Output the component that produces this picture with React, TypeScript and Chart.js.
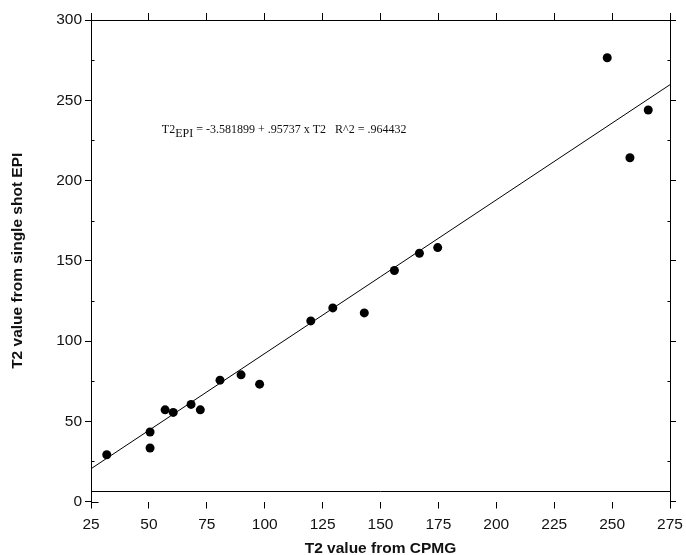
import React, { useEffect, useRef } from 'react';
import { Chart, registerables } from 'chart.js';

Chart.register(...registerables);

// ---- data ----
const cpmgValues = [31.8, 50.5, 50.5, 57.0, 60.5, 68.2, 72.2, 80.7, 89.8, 97.8, 119.9, 129.4, 143.0, 156.0, 166.8, 174.7, 247.9, 257.7, 265.6];
const epiValues = [29.1, 43.3, 33.3, 57.1, 55.5, 60.5, 57.1, 75.6, 78.9, 73.1, 112.5, 120.6, 117.5, 143.9, 154.7, 158.2, 276.5, 214.2, 243.9];
const fitX = [25, 275];
const fitY = [20.4, 259.7];
const xMin = 25;
const xMax = 275;
const xStep = 25;
const yMin = 0;
const yMax = 300;
const yStep = 50;
const yMinorTicks = [25, 75, 125, 175, 225, 275];
const frameBottomValue = 6.5;
const equationMain = 'T2';
const equationSub = 'EPI';
const equationRest = ' = -3.581899 + .95737 x T2   R^2 = .964432';
const equationAnchorX = 55.6;
const equationAnchorY = 229.3;
const xTitle = 'T2 value from CPMG';
const yTitle = 'T2 value from single shot EPI';

const SANS = '"Liberation Sans", Arial, Helvetica, sans-serif';
const INK = '#111';

const overlayPlugin = {
  id: 'overlay',
  afterDatasetsDraw(chart: any) {
    const { ctx, chartArea, scales } = chart;
    const xs = scales.x;
    const ys = scales.y;
    ctx.save();
    ctx.strokeStyle = '#000';
    ctx.lineWidth = 1;
    // bottom frame line
    const fy = Math.round(ys.getPixelForValue(frameBottomValue)) + 0.5;
    ctx.beginPath();
    ctx.moveTo(chartArea.left, fy);
    ctx.lineTo(chartArea.right, fy);
    ctx.stroke();
    // minor inward ticks on left and right frame
    const lx = Math.round(chartArea.left) + 0.5;
    const rx = Math.round(chartArea.right) + 0.5;
    ctx.beginPath();
    yMinorTicks.forEach((v) => {
      const py = Math.round(ys.getPixelForValue(v)) + 0.5;
      ctx.moveTo(lx, py);
      ctx.lineTo(lx + 3, py);
      ctx.moveTo(rx, py);
      ctx.lineTo(rx - 3, py);
    });
    // origin cross: zero tick extends slightly inward
    const zy = Math.round(ys.getPixelForValue(yMin)) + 0.5;
    ctx.moveTo(lx, zy);
    ctx.lineTo(lx + 7, zy);
    ctx.stroke();
    // equation text
    ctx.fillStyle = INK;
    ctx.font = '12px "Liberation Serif", "Times New Roman", serif';
    ctx.textBaseline = 'alphabetic';
    ctx.textAlign = 'left';
    let px = xs.getPixelForValue(equationAnchorX);
    const py = ys.getPixelForValue(equationAnchorY);
    ctx.fillText(equationMain, px, py);
    px += ctx.measureText(equationMain).width;
    ctx.fillText(equationSub, px, py + 4);
    px += ctx.measureText(equationSub).width;
    ctx.fillText(equationRest, px, py);
    ctx.restore();
  },
};

function noPad(s: any) {
  s.paddingLeft = 0;
  s.paddingRight = 0;
  s.paddingTop = 0;
  s.paddingBottom = 0;
}

export default function App() {
  const canvasRef = useRef<HTMLCanvasElement | null>(null);

  useEffect(() => {
    const canvas = canvasRef.current;
    if (!canvas) return;
    const points = cpmgValues.map((x, i) => ({ x, y: epiValues[i] }));
    const fitPoints = fitX.map((x, i) => ({ x, y: fitY[i] }));
    const tickFont = { family: SANS, size: 15.5 };
    const titleFont = { family: SANS, size: 15.5, weight: 'bold' as const, lineHeight: 0.8 };

    const chart = new Chart(canvas, {
      type: 'scatter',
      data: {
        datasets: [
          {
            label: 'fit',
            data: fitPoints,
            showLine: true,
            borderColor: '#000',
            borderWidth: 1,
            pointRadius: 0,
            fill: false,
          },
          {
            label: 'T2',
            data: points,
            pointRadius: 4.5,
            pointBackgroundColor: '#000',
            pointBorderWidth: 0,
            backgroundColor: '#000',
            borderColor: '#000',
          },
        ],
      },
      options: {
        animation: false,
        responsive: false,
        maintainAspectRatio: false,
        layout: { padding: 0 },
        plugins: {
          legend: { display: false },
          tooltip: { enabled: false },
        },
        scales: {
          x: {
            type: 'linear',
            position: 'bottom',
            min: xMin,
            max: xMax,
            ticks: { stepSize: xStep, font: tickFont, color: INK, padding: 7, maxRotation: 0, autoSkip: false },
            grid: { drawOnChartArea: false, tickLength: 7, color: '#000' },
            border: { display: false },
            title: { display: true, text: xTitle, font: titleFont, color: INK, padding: 0 },
            afterFit(s: any) { s.height = 53.5; noPad(s); },
          },
          xTop: {
            type: 'linear',
            axis: 'x',
            position: 'top',
            min: xMin,
            max: xMax,
            ticks: { stepSize: xStep, display: false },
            grid: { drawOnChartArea: false, tickLength: 7, color: '#000' },
            border: { display: true, color: '#000' },
            afterFit(s: any) { s.height = 20; noPad(s); },
          },
          y: {
            type: 'linear',
            position: 'left',
            min: yMin,
            max: yMax,
            ticks: { stepSize: yStep, font: tickFont, color: INK, padding: 3 },
            grid: { drawOnChartArea: false, tickLength: 6, color: '#000' },
            border: { display: true, color: '#000' },
            title: { display: true, text: yTitle, font: titleFont, color: INK, padding: { top: 12, bottom: 0 } },
            afterFit(s: any) { s.width = 91; noPad(s); },
          },
          yRight: {
            type: 'linear',
            axis: 'y',
            position: 'right',
            min: yMin,
            max: yMax,
            ticks: { stepSize: yStep, display: false },
            grid: { drawOnChartArea: false, tickLength: 6, color: '#000' },
            border: { display: true, color: '#000' },
            afterFit(s: any) { s.width = 16; noPad(s); },
          },
        },
      },
      plugins: [overlayPlugin],
    });
    return () => chart.destroy();
  }, []);

  return (
    <div style={{ position: 'fixed', left: 0, top: 0, width: 686, height: 555, background: '#fff' }}>
      <canvas ref={canvasRef} width={686} height={555} style={{ display: 'block' }} />
    </div>
  );
}
